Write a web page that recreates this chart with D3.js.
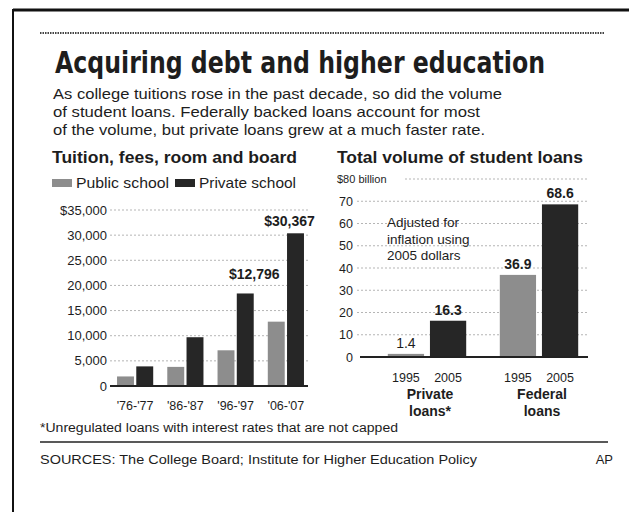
<!DOCTYPE html>
<html>
<head>
<meta charset="utf-8">
<script src="https://cdn.jsdelivr.net/npm/d3@7"></script>
<style>
  body { margin: 0; background: #fff; }
  svg { display: block; }
  text { font-family: "Liberation Sans", Arial, sans-serif; fill: #1d1d1d; }
</style>
</head>
<body>
<svg id="chart" width="629" height="512"></svg>
<script>
// left chart: tuition, fees, room and board
const tuitionYears = ["'76-'77", "'86-'87", "'96-'97", "'06-'07"];
const publicCost = [1900, 3800, 7100, 12796];
const privateCost = [3900, 9700, 18400, 30367];
const tuitionTicks = [0, 5000, 10000, 15000, 20000, 25000, 30000, 35000];

// right chart: total volume of student loans ($ billion)
const loanGroups = ["Private loans*", "Federal loans"];
const loanYears = ["1995", "2005"];
const privateLoans = [1.4, 16.3];
const federalLoans = [36.9, 68.6];
const loanTicks = [0, 10, 20, 30, 40, 50, 60, 70, 80];

const GRAY = "#8d8d8d";
const DARK = "#262626";

const svg = d3.select("#chart");

// frame and rules
svg.append("line").attr("x1", 13).attr("x2", 629).attr("y1", 10).attr("y2", 10)
  .attr("stroke", "#111").attr("stroke-width", 3);
svg.append("line").attr("x1", 13).attr("x2", 13).attr("y1", 9).attr("y2", 512)
  .attr("stroke", "#111").attr("stroke-width", 2);
svg.append("line").attr("x1", 40).attr("x2", 605).attr("y1", 33).attr("y2", 33)
  .attr("stroke", "#444").attr("stroke-width", 2).attr("stroke-dasharray", "1.5,1");

// headline, sized to the width it takes in the print (a bit taller than wide)
const title = svg.append("text")
  .attr("transform", "translate(55,73) scale(1,1.12)")
  .style("font-family", "'Liberation Sans Narrow', 'DejaVu Sans Condensed', sans-serif")
  .style("font-weight", "bold").style("font-size", "34px")
  .text("Acquiring debt and higher education");
const titleLen = title.node().getComputedTextLength();
if (titleLen > 0) title.style("font-size", Math.min(38, 34 * 490 / titleLen) + "px");

const intro = [
  ["As college tuitions rose in the past decade, so did the volume", 449],
  ["of student loans. Federally backed loans account for most", 427],
  ["of the volume, but private loans grew at a much faster rate.", 432]
];
svg.selectAll("text.intro")
  .data(intro)
  .enter()
  .append("text")
  .attr("class", "intro")
  .attr("x", 53)
  .attr("y", (d, i) => 99 + i * 18)
  .attr("textLength", (d) => d[1])
  .attr("lengthAdjust", "spacingAndGlyphs")
  .style("font-size", "15px")
  .text((d) => d[0]);

// ---------- left chart ----------
const yL = d3.scaleLinear().domain([0, 35000]).range([386, 210]);
const xL = d3.scaleBand().domain(tuitionYears).range([111, 310])
  .paddingInner(0.28).paddingOuter(0.12);
const xLs = d3.scaleBand().domain(["public", "private"])
  .range([0, xL.bandwidth()]).paddingInner(0.12);

svg.append("text")
  .attr("x", 52).attr("y", 163)
  .attr("textLength", 245).attr("lengthAdjust", "spacingAndGlyphs")
  .style("font-size", "16px").style("font-weight", "bold")
  .text("Tuition, fees, room and board");

// legend
const legend = [
  { label: "Public school", color: GRAY, x: 52, w: 93 },
  { label: "Private school", color: DARK, x: 175, w: 97 }
];
legend.forEach((d) => {
  svg.append("rect").attr("x", d.x).attr("y", 179).attr("width", 20).attr("height", 8)
    .attr("fill", d.color);
  svg.append("text").attr("x", d.x + 24).attr("y", 188)
    .attr("textLength", d.w).attr("lengthAdjust", "spacingAndGlyphs")
    .style("font-size", "15px").text(d.label);
});

// grid and ticks
svg.selectAll("line.gridL")
  .data(tuitionTicks.filter((d) => d > 0))
  .enter()
  .append("line")
  .attr("class", "gridL")
  .attr("x1", 110).attr("x2", 308)
  .attr("y1", (d) => yL(d)).attr("y2", (d) => yL(d))
  .attr("stroke", "#b5b5b5").attr("stroke-width", 1).attr("stroke-dasharray", "2,2");

svg.selectAll("text.tickL")
  .data(tuitionTicks)
  .enter()
  .append("text")
  .attr("class", "tickL")
  .attr("x", 107)
  .attr("y", (d) => yL(d) + 4.5)
  .attr("text-anchor", "end")
  .style("font-size", "13px")
  .text((d, i) => (i === tuitionTicks.length - 1 ? d3.format("$,")(d) : d3.format(",")(d)));

// bars
const tuitionRows = tuitionYears.map((yr, i) => ({ yr, public: publicCost[i], private: privateCost[i] }));
const groupsL = svg.selectAll("g.groupL")
  .data(tuitionRows)
  .enter()
  .append("g")
  .attr("class", "groupL")
  .attr("transform", (d) => `translate(${xL(d.yr)},0)`);

groupsL.selectAll("rect")
  .data((d) => ["public", "private"].map((k) => ({ k, v: d[k] })))
  .enter()
  .append("rect")
  .attr("x", (d) => xLs(d.k))
  .attr("width", xLs.bandwidth())
  .attr("y", (d) => yL(d.v))
  .attr("height", (d) => yL(0) - yL(d.v))
  .attr("fill", (d) => (d.k === "public" ? GRAY : DARK));

svg.append("line").attr("x1", 110).attr("x2", 308).attr("y1", yL(0)).attr("y2", yL(0))
  .attr("stroke", "#222").attr("stroke-width", 2);

svg.selectAll("text.catL")
  .data(tuitionYears)
  .enter()
  .append("text")
  .attr("class", "catL")
  .attr("x", (d) => xL(d) + xL.bandwidth() / 2)
  .attr("y", 410)
  .attr("text-anchor", "middle")
  .style("font-size", "12.5px")
  .text((d) => d);

// value callouts for the latest year
const last = tuitionYears.length - 1;
const money = d3.format("$,");
svg.append("text")
  .attr("x", xL(tuitionYears[last]) + xLs("private") + xLs.bandwidth() / 2 - 6)
  .attr("y", yL(privateCost[last]) - 7)
  .attr("text-anchor", "middle")
  .style("font-size", "14px").style("font-weight", "bold")
  .text(money(privateCost[last]));
svg.append("text")
  .attr("x", xL(tuitionYears[last]) + xLs("public") + xLs.bandwidth() / 2 - 22)
  .attr("y", yL(publicCost[last]) - 43)
  .attr("text-anchor", "middle")
  .style("font-size", "14px").style("font-weight", "bold")
  .text(money(publicCost[last]));

// ---------- right chart ----------
const yR = d3.scaleLinear().domain([0, 80]).range([357, 179]);
const xR = d3.scaleBand().domain(loanGroups).range([371, 595])
  .paddingInner(0.3).paddingOuter(0.15);
const xRs = d3.scaleBand().domain(loanYears).range([0, xR.bandwidth()]).paddingInner(0.14);

svg.append("text")
  .attr("x", 337).attr("y", 163)
  .attr("textLength", 246).attr("lengthAdjust", "spacingAndGlyphs")
  .style("font-size", "16px").style("font-weight", "bold")
  .text("Total volume of student loans");

svg.selectAll("line.gridR")
  .data(loanTicks.filter((d) => d > 0))
  .enter()
  .append("line")
  .attr("class", "gridR")
  .attr("x1", (d) => (d === 80 ? 405 : 357)).attr("x2", 588)
  .attr("y1", (d) => yR(d)).attr("y2", (d) => yR(d))
  .attr("stroke", "#b5b5b5").attr("stroke-width", 1).attr("stroke-dasharray", "2,2");

svg.selectAll("text.tickR")
  .data(loanTicks)
  .enter()
  .append("text")
  .attr("class", "tickR")
  .attr("x", (d) => (d === 80 ? 337 : 353))
  .attr("y", (d) => yR(d) + (d === 80 ? 3.5 : 4.5))
  .attr("text-anchor", (d) => (d === 80 ? "start" : "end"))
  .style("font-size", (d) => (d === 80 ? "11px" : "12.5px"))
  .text((d) => (d === 80 ? "$80 billion" : d));

const loanRows = [
  { group: loanGroups[0], vals: privateLoans },
  { group: loanGroups[1], vals: federalLoans }
];
const groupsR = svg.selectAll("g.groupR")
  .data(loanRows)
  .enter()
  .append("g")
  .attr("class", "groupR")
  .attr("transform", (d) => `translate(${xR(d.group)},0)`);

const barsR = groupsR.selectAll("g")
  .data((d) => loanYears.map((yr, i) => ({ yr, v: d.vals[i] })))
  .enter()
  .append("g");

barsR.append("rect")
  .attr("x", (d) => xRs(d.yr))
  .attr("width", xRs.bandwidth())
  .attr("y", (d) => yR(d.v))
  .attr("height", (d) => yR(0) - yR(d.v))
  .attr("fill", (d) => (d.yr === "1995" ? GRAY : DARK));

barsR.append("text")
  .attr("x", (d) => xRs(d.yr) + xRs.bandwidth() / 2)
  .attr("y", (d) => yR(d.v) - 6)
  .attr("text-anchor", "middle")
  .style("font-size", "14px")
  .style("font-weight", (d) => (d.v < 5 ? "normal" : "bold"))
  .text((d) => d.v);

barsR.append("text")
  .attr("x", (d) => xRs(d.yr) + xRs.bandwidth() / 2)
  .attr("y", 382)
  .attr("text-anchor", "middle")
  .style("font-size", "12.5px")
  .text((d) => d.yr);

groupsR.append("text")
  .attr("x", xR.bandwidth() / 2 + 3)
  .attr("y", 399)
  .attr("text-anchor", "middle")
  .style("font-size", "14px").style("font-weight", "bold")
  .selectAll("tspan")
  .data((d) => d.group.split(" "))
  .enter()
  .append("tspan")
  .attr("x", xR.bandwidth() / 2 + 3)
  .attr("dy", (d, i) => (i === 0 ? 0 : 17))
  .text((d) => d);

svg.append("line").attr("x1", 360).attr("x2", 588).attr("y1", yR(0)).attr("y2", yR(0))
  .attr("stroke", "#222").attr("stroke-width", 2);

const note = ["Adjusted for", "inflation using", "2005 dollars"];
svg.selectAll("text.note")
  .data(note)
  .enter()
  .append("text")
  .attr("class", "note")
  .attr("x", 387)
  .attr("y", (d, i) => 227 + i * 16.5)
  .style("font-size", "13.5px")
  .text((d) => d);

// footer
svg.append("text")
  .attr("x", 40).attr("y", 432)
  .attr("textLength", 358).attr("lengthAdjust", "spacingAndGlyphs")
  .style("font-size", "12px")
  .text("*Unregulated loans with interest rates that are not capped");
svg.append("line").attr("x1", 40).attr("x2", 608).attr("y1", 442).attr("y2", 442)
  .attr("stroke", "#222").attr("stroke-width", 1.5);
svg.append("text")
  .attr("x", 40).attr("y", 464)
  .attr("textLength", 437).attr("lengthAdjust", "spacingAndGlyphs")
  .style("font-size", "13px")
  .text("SOURCES: The College Board; Institute for Higher Education Policy");
svg.append("text")
  .attr("x", 613).attr("y", 464)
  .attr("text-anchor", "end")
  .style("font-size", "13px")
  .text("AP");
</script>
</body>
</html>
